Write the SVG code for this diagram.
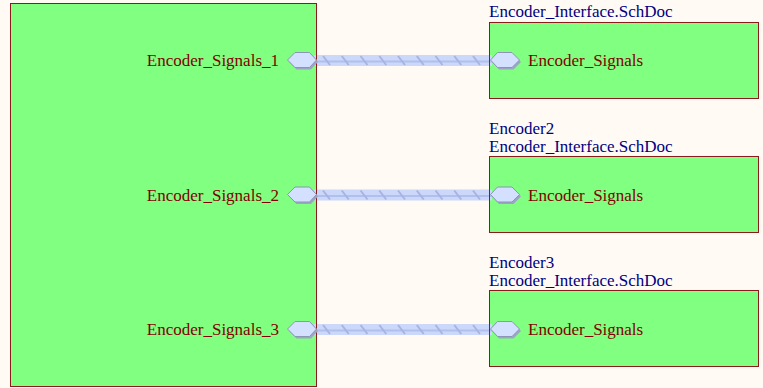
<svg xmlns="http://www.w3.org/2000/svg" width="763" height="388" viewBox="0 0 763 388">
<style>
.sheet{fill:#80ff80;stroke:#8b1a1a;stroke-width:1}
.pin{font-family:"Liberation Serif","Times New Roman",serif;font-size:17px;fill:#800000}
.lbl{font-family:"Liberation Serif","Times New Roman",serif;font-size:17px;fill:#000080}
.portsh{fill:#9aa6c4;stroke:none}
.port{fill:#d4e0ff;stroke:#8a96b4;stroke-width:1}
.bus{fill:#ccd8fa}
.busc{stroke:#b0bfee;stroke-width:2}
.hatch{stroke:#a6b4e4;stroke-width:2}
</style>
<defs>
<g id="lport">
<polygon class="portsh" points="289,62 296.5,54.5 311,54.5 318,62 311,69.5 296.5,69.5"/>
<polygon class="port" points="287.5,60 295,52.5 309.5,52.5 316.5,60 309.5,67.5 295,67.5"/>
</g>
<g id="rport">
<polygon class="portsh" points="492,62 499,54.5 513.5,54.5 521,62 513.5,69.5 499,69.5"/>
<polygon class="port" points="490.5,60 497.5,52.5 512,52.5 519.5,60 512,67.5 497.5,67.5"/>
</g>
<g id="busseg">
<rect class="bus" x="314" y="55" width="178" height="11"/>
<line class="busc" x1="314" y1="61.5" x2="492" y2="61.5"/>
<g class="hatch">
<line x1="323" y1="56" x2="330" y2="65"/>
<line x1="341.75" y1="56" x2="348.75" y2="65"/>
<line x1="360.5" y1="56" x2="367.5" y2="65"/>
<line x1="379.25" y1="56" x2="386.25" y2="65"/>
<line x1="398" y1="56" x2="405" y2="65"/>
<line x1="416.75" y1="56" x2="423.75" y2="65"/>
<line x1="435.5" y1="56" x2="442.5" y2="65"/>
<line x1="454.25" y1="56" x2="461.25" y2="65"/>
<line x1="473" y1="56" x2="480" y2="65"/>
</g>
</g>
</defs>
<rect x="0" y="0" width="763" height="388" fill="#fffaf4"/>

<g id="top-sheet">
<rect class="sheet" x="10.5" y="3.5" width="306" height="383"/>
<text class="pin" x="279" y="66" text-anchor="end">Encoder_Signals_1</text>
<text class="pin" x="279" y="200.5" text-anchor="end">Encoder_Signals_2</text>
<text class="pin" x="279" y="335" text-anchor="end">Encoder_Signals_3</text>
</g>

<g id="encoder1">
<text class="lbl" x="489" y="17">Encoder_Interface.SchDoc</text>
<rect class="sheet" x="489.5" y="22.5" width="269" height="76"/>
<text class="pin" x="528" y="66">Encoder_Signals</text>
</g>

<g id="encoder2">
<text class="lbl" x="489" y="133.5">Encoder2</text>
<text class="lbl" x="489" y="151.5">Encoder_Interface.SchDoc</text>
<rect class="sheet" x="489.5" y="156.5" width="269" height="76"/>
<text class="pin" x="528" y="200.5">Encoder_Signals</text>
</g>

<g id="encoder3">
<text class="lbl" x="489" y="267.5">Encoder3</text>
<text class="lbl" x="489" y="285.5">Encoder_Interface.SchDoc</text>
<rect class="sheet" x="489.5" y="290.5" width="269" height="76"/>
<text class="pin" x="528" y="335">Encoder_Signals</text>
</g>

<g id="connectors">
<use href="#busseg"/>
<use href="#busseg" transform="translate(0,134.5)"/>
<use href="#busseg" transform="translate(0,269)"/>
<line x1="316.5" y1="3.5" x2="316.5" y2="386.5" stroke="#8b1a1a" stroke-width="1"/>
<line x1="489.5" y1="22.5" x2="489.5" y2="98.5" stroke="#8b1a1a" stroke-width="1"/>
<line x1="489.5" y1="156.5" x2="489.5" y2="232.5" stroke="#8b1a1a" stroke-width="1"/>
<line x1="489.5" y1="290.5" x2="489.5" y2="366.5" stroke="#8b1a1a" stroke-width="1"/>
<use href="#lport"/>
<use href="#lport" transform="translate(0,134.5)"/>
<use href="#lport" transform="translate(0,269)"/>
<use href="#rport"/>
<use href="#rport" transform="translate(0,134.5)"/>
<use href="#rport" transform="translate(0,269)"/>
</g>
</svg>
